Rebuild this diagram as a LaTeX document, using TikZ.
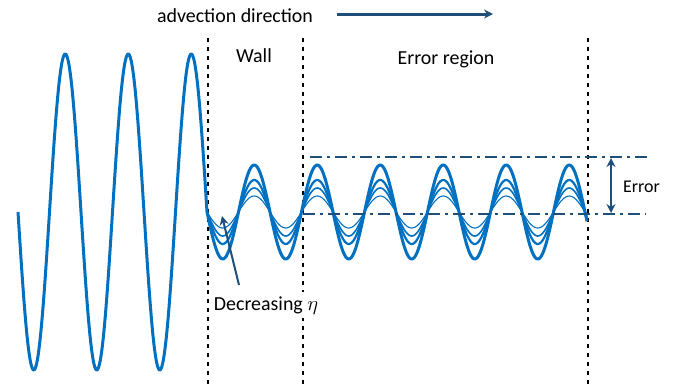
\documentclass[tikz,border=0pt]{standalone}
\usepackage{fontspec}
\setmainfont{Carlito}
\usetikzlibrary{arrows.meta}
\definecolor{waveblue}{RGB}{0,112,192}
\definecolor{navy}{RGB}{31,78,121}

\begin{document}
\begin{tikzpicture}[x=1bp,y=-1bp,>={Stealth[length=9bp,width=9bp]},
    lbl/.style={font=\fontsize{20}{24}\selectfont,inner sep=1bp},
    wave/.style={waveblue,line join=round},
    wall/.style={black,line width=2bp,dash pattern=on 4bp off 5bp},
    bound/.style={navy,line width=2.5bp,dash pattern=on 12bp off 5bp on 3bp off 5bp}]
    \useasboundingbox (0,0) rectangle (673,391);

    % Wall and region limits
    \foreach \xx in {208,303,588}
        \draw[wall] (\xx,38) -- (\xx,388);

    % Incoming wave
    \draw[wave,line width=3bp] plot[domain=18:207,samples=240,smooth]
        (\x,{212+158*sin((\x-18)/63*360)});

    % Damped waves for decreasing eta
    \foreach \amp/\lw in {47/3,32/2.2,24/1.6,16/1.1}
        \draw[wave,line width=\lw bp] plot[domain=207:587,samples=300,smooth]
            (\x,{212+\amp*sin((\x-18)/63*360)});

    % Error band
    \coordinate (uppL) at (310,157);
    \coordinate (uppR) at (648,157);
    \coordinate (lowL) at (303,214);
    \coordinate (lowR) at (646,214);
    \draw[bound] (uppL) -- (uppR);
    \draw[bound] (lowL) -- (lowR);
    \coordinate (errtop) at (611,158);
    \coordinate (errbot) at (611,213);
    \draw[<->,navy,line width=2bp] (errtop) -- (errbot);
    \node[lbl,anchor=base west,font=\fontsize{18}{22}\selectfont] (err) at (622,192) {Error};

    % Labels
    \node[lbl,anchor=base] (wall) at (254,62) {Wall};
    \node[lbl,anchor=base] (errreg) at (446,64) {Error region};
    \node[lbl,anchor=base,fill=white,inner sep=4bp] (dec) at (266,310) {Decreasing $\eta$};

    % Decreasing eta arrow
    \coordinate (dectail) at (239,285);
    \coordinate (dechead) at (222,216);
    \draw[->,navy,line width=2bp] (dectail) -- (dechead);

    % Advection direction
    \node[lbl,anchor=base] (adv) at (235,22) {advection direction};
    \coordinate (advtail) at (337,14);
    \coordinate (advhead) at (493,14);
    \draw[->,navy,line width=3bp] (advtail) -- (advhead);
\end{tikzpicture}
\end{document}
